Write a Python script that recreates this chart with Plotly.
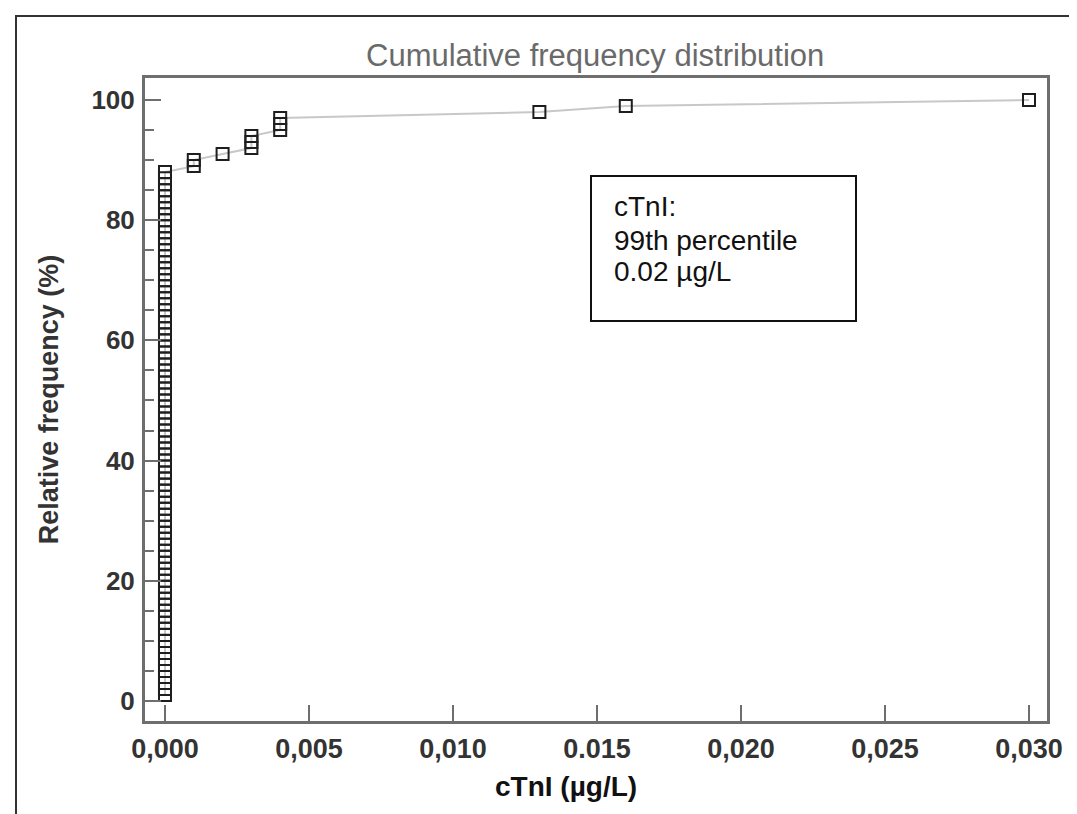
import plotly.graph_objects as go

# cTnI values (µg/L), sorted, and their cumulative relative frequency (%)
ctni = [
    0.000, 0.000, 0.000, 0.000, 0.000, 0.000, 0.000, 0.000, 0.000, 0.000,
    0.000, 0.000, 0.000, 0.000, 0.000, 0.000, 0.000, 0.000, 0.000, 0.000,
    0.000, 0.000, 0.000, 0.000, 0.000, 0.000, 0.000, 0.000, 0.000, 0.000,
    0.000, 0.000, 0.000, 0.000, 0.000, 0.000, 0.000, 0.000, 0.000, 0.000,
    0.000, 0.000, 0.000, 0.000, 0.000, 0.000, 0.000, 0.000, 0.000, 0.000,
    0.000, 0.000, 0.000, 0.000, 0.000, 0.000, 0.000, 0.000, 0.000, 0.000,
    0.000, 0.000, 0.000, 0.000, 0.000, 0.000, 0.000, 0.000, 0.000, 0.000,
    0.000, 0.000, 0.000, 0.000, 0.000, 0.000, 0.000, 0.000, 0.000, 0.000,
    0.000, 0.000, 0.000, 0.000, 0.000, 0.000, 0.000, 0.000,
    0.001, 0.001, 0.002, 0.003, 0.003, 0.003, 0.004, 0.004, 0.004,
    0.013, 0.016, 0.030,
]
rel_freq = [
    1, 2, 3, 4, 5, 6, 7, 8, 9, 10,
    11, 12, 13, 14, 15, 16, 17, 18, 19, 20,
    21, 22, 23, 24, 25, 26, 27, 28, 29, 30,
    31, 32, 33, 34, 35, 36, 37, 38, 39, 40,
    41, 42, 43, 44, 45, 46, 47, 48, 49, 50,
    51, 52, 53, 54, 55, 56, 57, 58, 59, 60,
    61, 62, 63, 64, 65, 66, 67, 68, 69, 70,
    71, 72, 73, 74, 75, 76, 77, 78, 79, 80,
    81, 82, 83, 84, 85, 86, 87, 88,
    89, 90, 91, 92, 93, 94, 95, 96, 97,
    98, 99, 100,
]

x_tickvals = [0.000, 0.005, 0.010, 0.015, 0.020, 0.025, 0.030]
x_ticktext = ["0,000", "0,005", "0,010", "0.015", "0,020", "0,025", "0,030"]
y_tickvals = [0, 20, 40, 60, 80, 100]
y_ticktext = ["0", "20", "40", "60", "80", "100"]

box_lines = ["cTnI:", "99th percentile", "0.02 µg/L"]

W, H = 1077, 814
L, R, T, B = 137, 1039, 70, 713  # plot area in pixels


def px(xp):
    return (xp - L) / (R - L)


def py(yp):
    return (B - yp) / (B - T)


fig = go.Figure()
fig.add_trace(go.Scatter(
    x=ctni, y=rel_freq, mode="lines+markers",
    line=dict(color="#c8c8c8", width=2),
    marker=dict(symbol="square-open", size=12, color="#1e1e1e",
                line=dict(color="#1e1e1e", width=2)),
    showlegend=False, hoverinfo="x+y",
))

font_main = "Liberation Sans, Arial, sans-serif"

fig.update_layout(
    width=W, height=H,
    margin=dict(l=L, r=W - R, t=T, b=H - B, autoexpand=False),
    paper_bgcolor="white", plot_bgcolor="white",
    font=dict(family=font_main, color="#333333"),
    xaxis=dict(
        range=[-0.000694, 0.030625], showgrid=False, zeroline=False,
        showline=True, mirror=True, linecolor="#6e6e6e", linewidth=3,
        ticks="inside", ticklen=16, tickwidth=2, tickcolor="#6e6e6e",
        tickvals=x_tickvals, ticktext=x_ticktext,
        tickfont=dict(family=font_main, size=27, color="#333333", weight="bold"),
        ticklabelstandoff=2,
        automargin=False,
    ),
    yaxis=dict(
        range=[-3.33, 103.66], showgrid=False, zeroline=False,
        showline=True, mirror=True, linecolor="#6e6e6e", linewidth=3,
        ticks="inside", ticklen=16, tickwidth=2, tickcolor="#6e6e6e",
        tickvals=y_tickvals, ticktext=y_ticktext,
        minor=dict(dtick=5, ticks="inside", ticklen=9, tickwidth=2, tickcolor="#6e6e6e"),
        tickfont=dict(family=font_main, size=26, color="#333333", weight="bold"),
        ticklabelstandoff=2,
        title=dict(text="Relative frequency (%)",
                   font=dict(family=font_main, size=27, color="#333333", weight="bold"),
                   standoff=25),
        automargin=False,
    ),
)

# chart title
fig.add_annotation(
    text="Cumulative frequency distribution", xref="paper", yref="paper",
    x=px(587), y=py(47), xanchor="center", yanchor="middle", showarrow=False,
    font=dict(family=font_main, size=31, color="#6a6a6a"),
)

# x axis title (placed left of centre as in the source)
fig.add_annotation(
    text="cTnI (µg/L)", xref="paper", yref="paper",
    x=px(558), y=py(778), xanchor="center", yanchor="middle", showarrow=False,
    font=dict(family=font_main, size=28, color="#111111", weight="bold"),
)

# text box
fig.add_shape(type="rect", xref="paper", yref="paper",
              x0=px(583), x1=px(848), y0=py(313), y1=py(168),
              line=dict(color="#111111", width=2), fillcolor="rgba(0,0,0,0)")
for line_text, yc in zip(box_lines, [198, 232, 263]):
    fig.add_annotation(
        text=line_text, xref="paper", yref="paper",
        x=px(604), y=py(yc), xanchor="left", yanchor="middle", showarrow=False,
        font=dict(family=font_main, size=28, color="#111111"),
    )

# outer frame
fig.add_shape(type="rect", xref="paper", yref="paper",
              x0=px(8), x1=px(1075), y0=py(811), y1=py(8),
              line=dict(color="#333333", width=2), fillcolor="rgba(0,0,0,0)")

fig.write_html("out.html")
